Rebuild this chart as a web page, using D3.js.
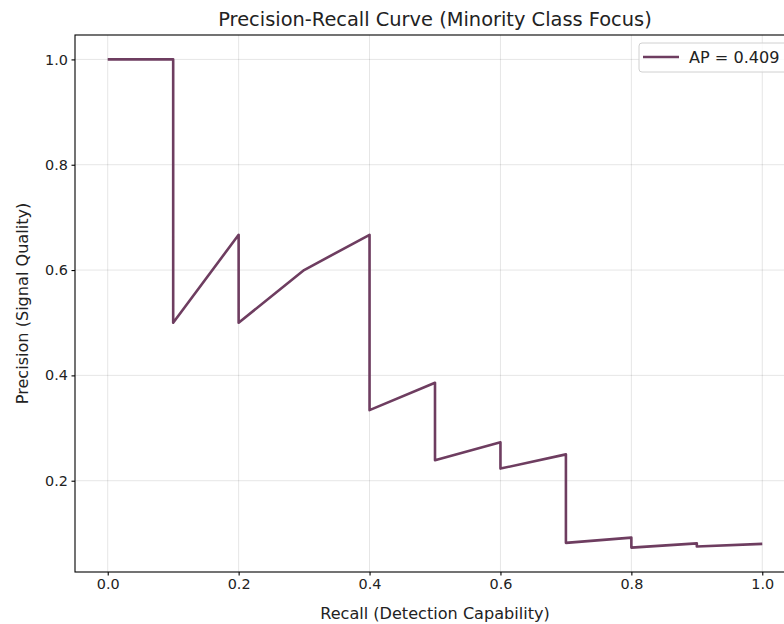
<!DOCTYPE html>
<html>
<head>
<meta charset="utf-8">
<script src="https://cdn.jsdelivr.net/npm/d3@7"></script>
<style>
  body { margin: 0; background: #fff; }
  svg { display: block; font-family: "DejaVu Sans", sans-serif; }
</style>
</head>
<body>
<svg id="chart" width="784" height="624"></svg>
<script>

// Curve points.
var recall =    [0.0, 0.1, 0.1, 0.2,   0.2, 0.3, 0.4,   0.4,   0.5,   0.5,   0.6,   0.6,   0.7,  0.7,   0.8,   0.8,   0.9,   0.9,   1.0];
var precision = [1.0, 1.0, 0.5, 0.667, 0.5, 0.6, 0.667, 0.334, 0.386, 0.239, 0.273, 0.223, 0.25, 0.082, 0.092, 0.073, 0.081, 0.075, 0.080];

// Ticks and labels.
var xTicks = [0.0, 0.2, 0.4, 0.6, 0.8, 1.0];
var yTicks = [0.2, 0.4, 0.6, 0.8, 1.0];
var legendLabel = 'AP = 0.409';

// Frame (plot box runs past the right edge, like the reference).
var plotLeft = 75, plotRight = 795, plotTop = 35, plotBottom = 572;
var lineColor = '#6e3d60';

var svg = d3.select('#chart');

// Scales, with matplotlib-like margins.
var x = d3.scaleLinear().domain([-0.05, 1.05]).range([plotLeft, plotRight]);
var yMin = d3.min(precision), yMax = d3.max(precision);
var pad = (yMax - yMin) * 0.05;
var y = d3.scaleLinear().domain([yMin - pad, yMax + pad]).range([plotBottom, plotTop]);

// Grid.
var grid = svg.append('g').attr('stroke', '#000').attr('stroke-opacity', 0.1).attr('stroke-width', 1);
xTicks.forEach(function(t) {
  grid.append('line').attr('x1', x(t)).attr('x2', x(t)).attr('y1', plotTop).attr('y2', plotBottom);
});
yTicks.forEach(function(t) {
  grid.append('line').attr('x1', plotLeft).attr('x2', plotRight).attr('y1', y(t)).attr('y2', y(t));
});

// Curve.
var line = d3.line()
  .x(function(d, i) { return x(recall[i]); })
  .y(function(d) { return y(d); });

svg.append('path')
  .datum(precision)
  .attr('d', line)
  .attr('fill', 'none')
  .attr('stroke', lineColor)
  .attr('stroke-width', 2.6)
  .attr('stroke-linejoin', 'round');

// Axes.
var xAxis = d3.axisBottom(x).tickValues(xTicks).tickFormat(d3.format('.1f')).tickSize(3.5).tickPadding(3.5);
var yAxis = d3.axisLeft(y).tickValues(yTicks).tickFormat(d3.format('.1f')).tickSize(3.5).tickPadding(3.5);

var gx = svg.append('g').attr('transform', 'translate(0,' + plotBottom + ')').call(xAxis);
var gy = svg.append('g').attr('transform', 'translate(' + plotLeft + ',0)').call(yAxis);

[gx, gy].forEach(function(g) {
  g.select('.domain').remove();
  g.selectAll('line').attr('stroke', '#000').attr('stroke-width', 1.1);
  g.selectAll('text').attr('font-size', 14.4).attr('fill', '#222')
    .attr('font-family', '"DejaVu Sans", sans-serif');
});

// Spines.
svg.append('rect')
  .attr('x', plotLeft).attr('y', plotTop)
  .attr('width', plotRight - plotLeft).attr('height', plotBottom - plotTop)
  .attr('fill', 'none').attr('stroke', '#000').attr('stroke-width', 1.1);

// Title and labels.
var cx = (plotLeft + plotRight) / 2;
svg.append('text').attr('x', cx).attr('y', 26).attr('text-anchor', 'middle')
  .attr('font-size', 19.4).attr('fill', '#222').text('Precision-Recall Curve (Minority Class Focus)');

svg.append('text').attr('x', cx).attr('y', 619).attr('text-anchor', 'middle')
  .attr('font-size', 16.1).attr('fill', '#222').text('Recall (Detection Capability)');

svg.append('text')
  .attr('transform', 'translate(28,' + ((plotTop + plotBottom) / 2) + ') rotate(-90)')
  .attr('text-anchor', 'middle')
  .attr('font-size', 16.1).attr('fill', '#222').text('Precision (Signal Quality)');

// Legend.
var legend = svg.append('g').attr('transform', 'translate(639,43)');
legend.append('rect')
  .attr('width', 149).attr('height', 29).attr('rx', 3)
  .attr('fill', '#fff').attr('fill-opacity', 0.8)
  .attr('stroke', '#d0d0d0').attr('stroke-width', 1);
legend.append('line')
  .attr('x1', 4).attr('x2', 40).attr('y1', 14).attr('y2', 14)
  .attr('stroke', lineColor).attr('stroke-width', 2.6);
legend.append('text').attr('x', 50).attr('y', 20)
  .attr('font-size', 16.1).attr('fill', '#222').text(legendLabel);

</script>
</body>
</html>
